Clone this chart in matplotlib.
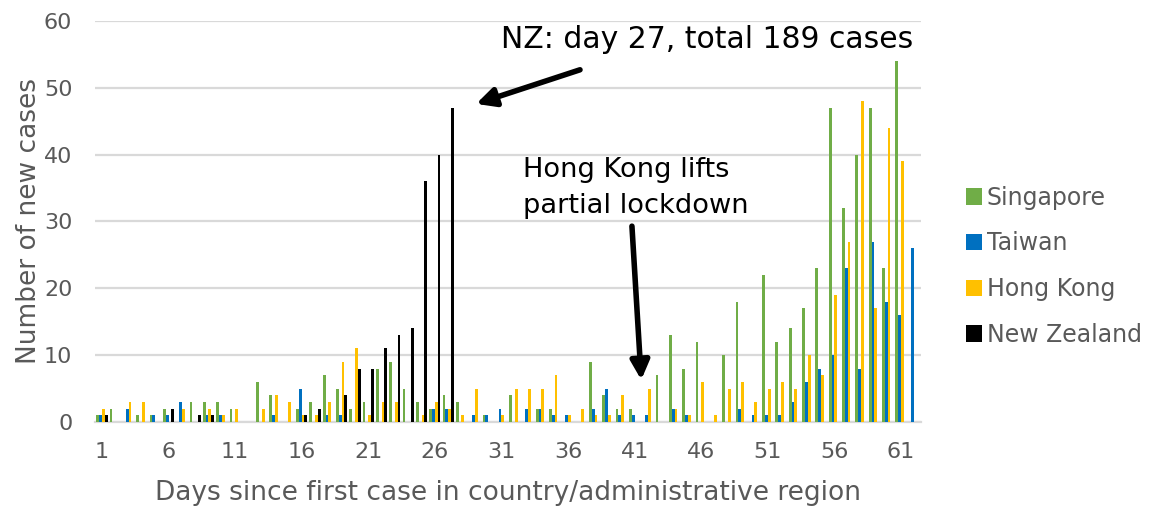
import numpy as np
import matplotlib
matplotlib.use("Agg")
import matplotlib.pyplot as plt
from matplotlib.patches import Patch

days = np.arange(1, 63)

# daily new cases, index 0 = day 1
singapore = [1, 2, 0, 1, 1, 2, 0, 3, 3, 3,
             2, 0, 6, 4, 0, 2, 3, 7, 5, 2,
             3, 8, 9, 5, 3, 2, 4, 3, 0, 1,
             0, 4, 0, 2, 2, 0, 0, 9, 4, 2,
             2, 0, 7, 13, 8, 12, 0, 10, 18, 0,
             22, 12, 14, 17, 23, 47, 32, 40, 47, 23,
             54, 0]
taiwan = [1, 0, 2, 0, 1, 1, 3, 0, 1, 1,
          0, 0, 0, 1, 0, 5, 0, 1, 1, 0,
          0, 0, 0, 0, 0, 2, 2, 0, 1, 1,
          2, 0, 2, 2, 1, 1, 0, 2, 5, 1,
          1, 1, 0, 2, 1, 0, 0, 0, 2, 1,
          1, 1, 3, 6, 8, 10, 23, 8, 27, 18,
          16, 26]
hong_kong = [2, 0, 3, 3, 0, 0, 2, 0, 2, 1,
             2, 0, 2, 4, 3, 1, 1, 3, 9, 11,
             1, 3, 3, 0, 1, 3, 2, 1, 5, 0,
             1, 5, 5, 5, 7, 1, 2, 1, 1, 4,
             0, 5, 0, 2, 1, 6, 1, 5, 6, 3,
             5, 6, 5, 10, 7, 19, 27, 48, 17, 44,
             39, 0]
new_zealand = [1, 0, 0, 0, 0, 2, 0, 1, 1, 0,
               0, 0, 0, 0, 0, 1, 2, 0, 4, 8,
               8, 11, 13, 14, 36, 40, 47] + [0] * 35

series = [
    ("Singapore", singapore, "#70AD47"),
    ("Taiwan", taiwan, "#0070C0"),
    ("Hong Kong", hong_kong, "#FFC000"),
    ("New Zealand", new_zealand, "#000000"),
]

tick_days = list(range(1, 62, 5))
grey = "#595959"
grid_grey = "#D9D9D9"

fig = plt.figure(figsize=(11.52, 5.12), dpi=100)
ax = fig.add_axes([0.0827, 0.1758, 0.7167, 0.7832])

width = 0.21
offsets = [-0.315, -0.105, 0.105, 0.315]
for (name, vals, color), off in zip(series, offsets):
    ax.bar(days + off, vals, width=width, color=color, label=name,
           linewidth=0, zorder=3)

ax.set_xlim(0.5, 62.5)
ax.set_ylim(0, 60)
ax.set_yticks(range(0, 61, 10))
ax.set_xticks(tick_days)
ax.set_xticklabels([str(d) for d in tick_days])
ax.tick_params(axis="both", length=0, labelsize=16, labelcolor=grey)
ax.tick_params(axis="x", pad=14.5)
ax.tick_params(axis="y", pad=16.5)
ax.grid(axis="y", color=grid_grey, linewidth=1.6, zorder=0)
for side in ("top", "right", "left"):
    ax.spines[side].set_visible(False)
ax.spines["bottom"].set_color(grid_grey)
ax.spines["bottom"].set_linewidth(1.6)

ax.set_xlabel("Days since first case in country/administrative region",
              fontsize=19, color=grey, labelpad=13)
ax.set_ylabel("Number of new cases", fontsize=19, color=grey, labelpad=1)

# annotations
ax.text(31.0, 57.2, "NZ: day 27, total 189 cases", fontsize=21.5,
        color="black", ha="left", va="center")
ax.annotate("", xy=(29.1, 47.6), xytext=(36.9, 52.7),
            arrowprops=dict(arrowstyle="-|>", lw=4, color="black",
                            mutation_scale=28, shrinkA=0, shrinkB=0))
ax.text(32.6, 35.0, "Hong Kong lifts\npartial lockdown", fontsize=19.6,
        color="black", ha="left", va="center", linespacing=1.52)
ax.annotate("", xy=(41.5, 6.3), xytext=(40.8, 29.3),
            arrowprops=dict(arrowstyle="-|>", lw=4, color="black",
                            mutation_scale=28, shrinkA=0, shrinkB=0))

handles = [Patch(facecolor=c, edgecolor="none", label=n) for n, _, c in series]
fig.legend(handles=handles, loc="center left", bbox_to_anchor=(0.828, 0.48),
           frameon=False, fontsize=17, labelcolor=grey,
           handlelength=0.7, handleheight=0.7, handletextpad=0.2,
           labelspacing=0.92, borderpad=0)

fig.savefig("out.png", dpi=100)
